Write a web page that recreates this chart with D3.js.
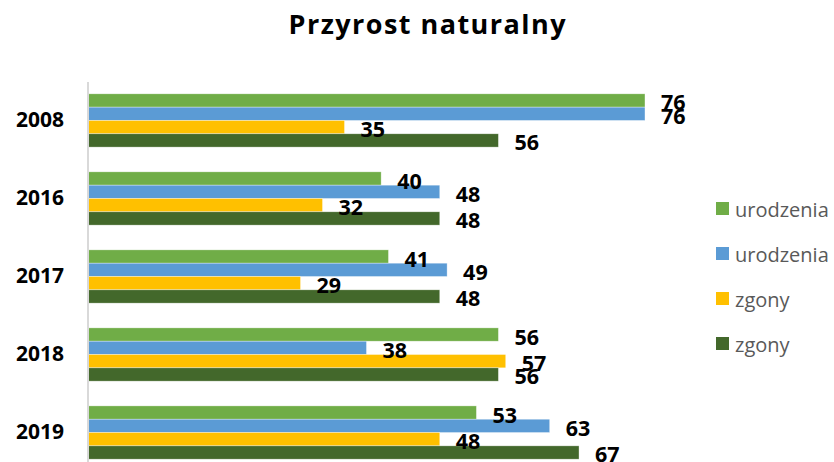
<!DOCTYPE html>
<html>
<head>
<meta charset="utf-8">
<script src="https://cdn.jsdelivr.net/npm/d3@7"></script>
<style>
  body { margin: 0; background: #fff; }
  text { font-family: "Open Sans", sans-serif; }
</style>
</head>
<body>
<div id="chart"></div>
<script>
const width = 834, height = 462;

// data
const years = ["2008", "2016", "2017", "2018", "2019"];
const seriesNames = ["urodzenia", "urodzenia", "zgony", "zgony"];
const seriesColors = ["#70ad47", "#5b9bd5", "#ffc000", "#43682b"];
const urodzeniaA = [76, 40, 41, 56, 53];
const urodzeniaB = [76, 48, 49, 38, 63];
const zgonyA = [35, 32, 29, 57, 48];
const zgonyB = [56, 48, 48, 56, 67];

const series = [urodzeniaA, urodzeniaB, zgonyA, zgonyB];

const svg = d3.select("#chart")
  .append("svg")
  .attr("width", width)
  .attr("height", height);

// title
svg.append("text")
  .attr("x", 427)
  .attr("y", 34)
  .attr("text-anchor", "middle")
  .attr("font-size", 27)
  .attr("font-weight", "bold")
  .attr("fill", "#000")
  .attr("textLength", 277)
  .attr("lengthAdjust", "spacing")
  .text("Przyrost naturalny");

const x = d3.scaleLinear().domain([0, 80]).range([88, 674.3]);

const y = d3.scaleBand()
  .domain(years)
  .range([81.5, 471.5])
  .paddingInner(0.317)
  .paddingOuter(0.158);

const ySub = d3.scaleBand()
  .domain(d3.range(series.length))
  .range([0, y.bandwidth()]);

// bars
const groups = svg.append("g")
  .selectAll("g")
  .data(years)
  .join("g")
  .attr("transform", d => `translate(0,${y(d)})`);

groups.selectAll("rect")
  .data((d, i) => series.map((s, k) => ({ k: k, v: s[i] })))
  .join("rect")
  .attr("x", x(0))
  .attr("y", d => ySub(d.k))
  .attr("width", d => x(d.v) - x(0))
  .attr("height", ySub.bandwidth())
  .attr("fill", d => seriesColors[d.k])
  .attr("stroke", "#fff")
  .attr("stroke-opacity", 0.6)
  .attr("stroke-width", 0.6);

// value labels
groups.selectAll("text")
  .data((d, i) => series.map((s, k) => ({ k: k, v: s[i] })))
  .join("text")
  .attr("x", d => x(d.v) + 16)
  .attr("y", d => ySub(d.k) + ySub.bandwidth() / 2 + 1.5)
  .attr("dominant-baseline", "central")
  .attr("font-size", 21.5)
  .attr("font-weight", "bold")
  .attr("fill", "#000")
  .text(d => d.v);

// category axis
const yAxis = svg.append("g")
  .attr("transform", `translate(${x(0)},0)`)
  .call(d3.axisLeft(y).tickSize(0).tickPadding(24));

yAxis.select(".domain")
  .attr("stroke", "#d9d9d9")
  .attr("stroke-width", 2)
  .attr("d", `M0,82V${height}`);

yAxis.selectAll(".tick text")
  .attr("font-family", "Open Sans, sans-serif")
  .attr("font-size", 21)
  .attr("font-weight", "bold")
  .attr("fill", "#000");

// legend
const legend = svg.append("g")
  .selectAll("g")
  .data(seriesNames)
  .join("g")
  .attr("transform", (d, i) => `translate(716,${209 + i * 45})`);

legend.append("rect")
  .attr("x", 0)
  .attr("y", -7)
  .attr("width", 13)
  .attr("height", 13)
  .attr("fill", (d, i) => seriesColors[i]);

legend.append("text")
  .attr("x", 19)
  .attr("y", 0)
  .attr("dominant-baseline", "central")
  .attr("font-size", 20)
  .attr("fill", "#595959")
  .text(d => d);
</script>
</body>
</html>
